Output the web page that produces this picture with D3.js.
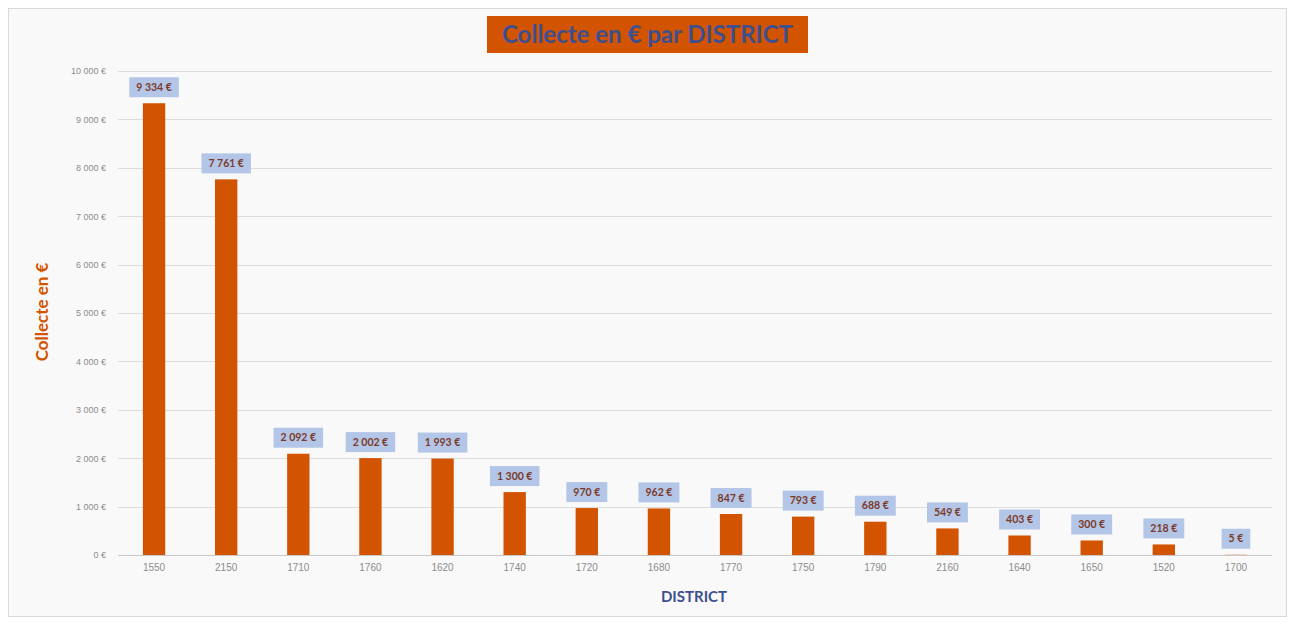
<!DOCTYPE html>
<html><head><meta charset="utf-8">
<script src="https://cdn.jsdelivr.net/npm/d3@7"></script>
<style>html,body{margin:0;padding:0;background:#fff;}svg{display:block;font-family:Lato,"Noto Sans",sans-serif;}</style>
</head><body>
<script>
const districts = ["1550","2150","1710","1760","1620","1740","1720","1680","1770","1750","1790","2160","1640","1650","1520","1700"];
const collecte = [9334,7761,2092,2002,1993,1300,970,962,847,793,688,549,403,300,218,5];
const yTicks = [0,1000,2000,3000,4000,5000,6000,7000,8000,9000,10000];
const title = "Collecte en € par DISTRICT";
const yTitle = "Collecte en €";
const xTitle = "DISTRICT";

const W = 1293, H = 624;
const svg = d3.select("body").append("svg").attr("width", W).attr("height", H);
svg.append("rect").attr("x",0).attr("y",0).attr("width",W).attr("height",H).attr("fill","#ffffff");
svg.append("rect").attr("x",8.5).attr("y",8.5).attr("width",1278).attr("height",608)
  .attr("fill","#f9f9f9").attr("stroke","#d9d9d9").attr("stroke-width",1);

const x0 = 118, x1 = 1272, yTop = 71, yBot = 555;
const fmt = v => d3.format(",")(v).replace(/,/g, " ") + " €";
const x = d3.scaleBand().domain(d3.range(districts.length)).range([x0, x1]).paddingInner(0.69).paddingOuter(0.345);
const y = d3.scaleLinear().domain([0, 10000]).range([yBot, yTop]);

// gridlines
svg.append("g").selectAll("line").data(yTicks).join("line")
  .attr("x1", x0).attr("x2", x1).attr("y1", d => Math.round(y(d))+0.5).attr("y2", d => Math.round(y(d))+0.5)
  .attr("stroke", d => d === 0 ? "#c8c8c8" : "#dcdcdc").attr("stroke-width", 1);

// y axis labels
const yAxis = d3.axisLeft(y).tickValues(yTicks).tickFormat(fmt).tickSize(0).tickPadding(0);
const gy = svg.append("g").attr("transform", `translate(${x0-12},0)`).call(yAxis);
gy.select(".domain").remove();
gy.selectAll("text").attr("fill","#8c8c8c").style("font-size","9px");

// x axis labels
const xAxis = d3.axisBottom(x).tickFormat(i => districts[i]).tickSize(0).tickPadding(0);
const gx = svg.append("g").attr("transform", `translate(0,${yBot+9})`).call(xAxis);
gx.select(".domain").remove();
gx.selectAll("text").attr("fill","#8c8c8c").style("font-size","10px");

// bars
svg.append("g").selectAll("rect").data(collecte).join("rect")
  .attr("x", (d,i) => x(i)).attr("width", x.bandwidth())
  .attr("y", d => y(d)).attr("height", d => yBot - y(d))
  .attr("fill", "#d35400");

// data labels
const lg = svg.append("g").selectAll("g").data(collecte).join("g")
  .attr("transform", (d,i) => `translate(${x(i)+x.bandwidth()/2},${y(d)-16})`);
lg.each(function(d){
  const g = d3.select(this);
  const t = g.append("text").attr("text-anchor","middle").attr("dy","0.35em")
    .attr("fill","#7a3a2a").style("font-size","10.5px").style("font-weight","bold").text(fmt(d));
  const w = t.node().getComputedTextLength();
  g.insert("rect","text").attr("x", -w/2-7).attr("y",-10).attr("width", w+14).attr("height",20).attr("fill","#b4c6e7");
});

// title
const tg = svg.append("g");
tg.append("rect").attr("x",487).attr("y",16).attr("width",321).attr("height",37).attr("fill","#d35400");
tg.append("text").attr("x",647.5).attr("y",35).attr("text-anchor","middle").attr("dy","0.35em")
  .attr("fill","#3e4f8f").style("font-size","24px").style("font-weight","bold").text(title);

// axis titles
svg.append("text").attr("transform","translate(42,312) rotate(-90)").attr("text-anchor","middle").attr("dy","0.35em")
  .attr("fill","#d35400").style("font-size","17px").style("font-weight","bold").text(yTitle);
svg.append("text").attr("x",694).attr("y",597).attr("text-anchor","middle").attr("dy","0.35em")
  .attr("fill","#3e4f8f").style("font-size","15px").style("font-weight","bold").text(xTitle);
</script>
</body></html>
